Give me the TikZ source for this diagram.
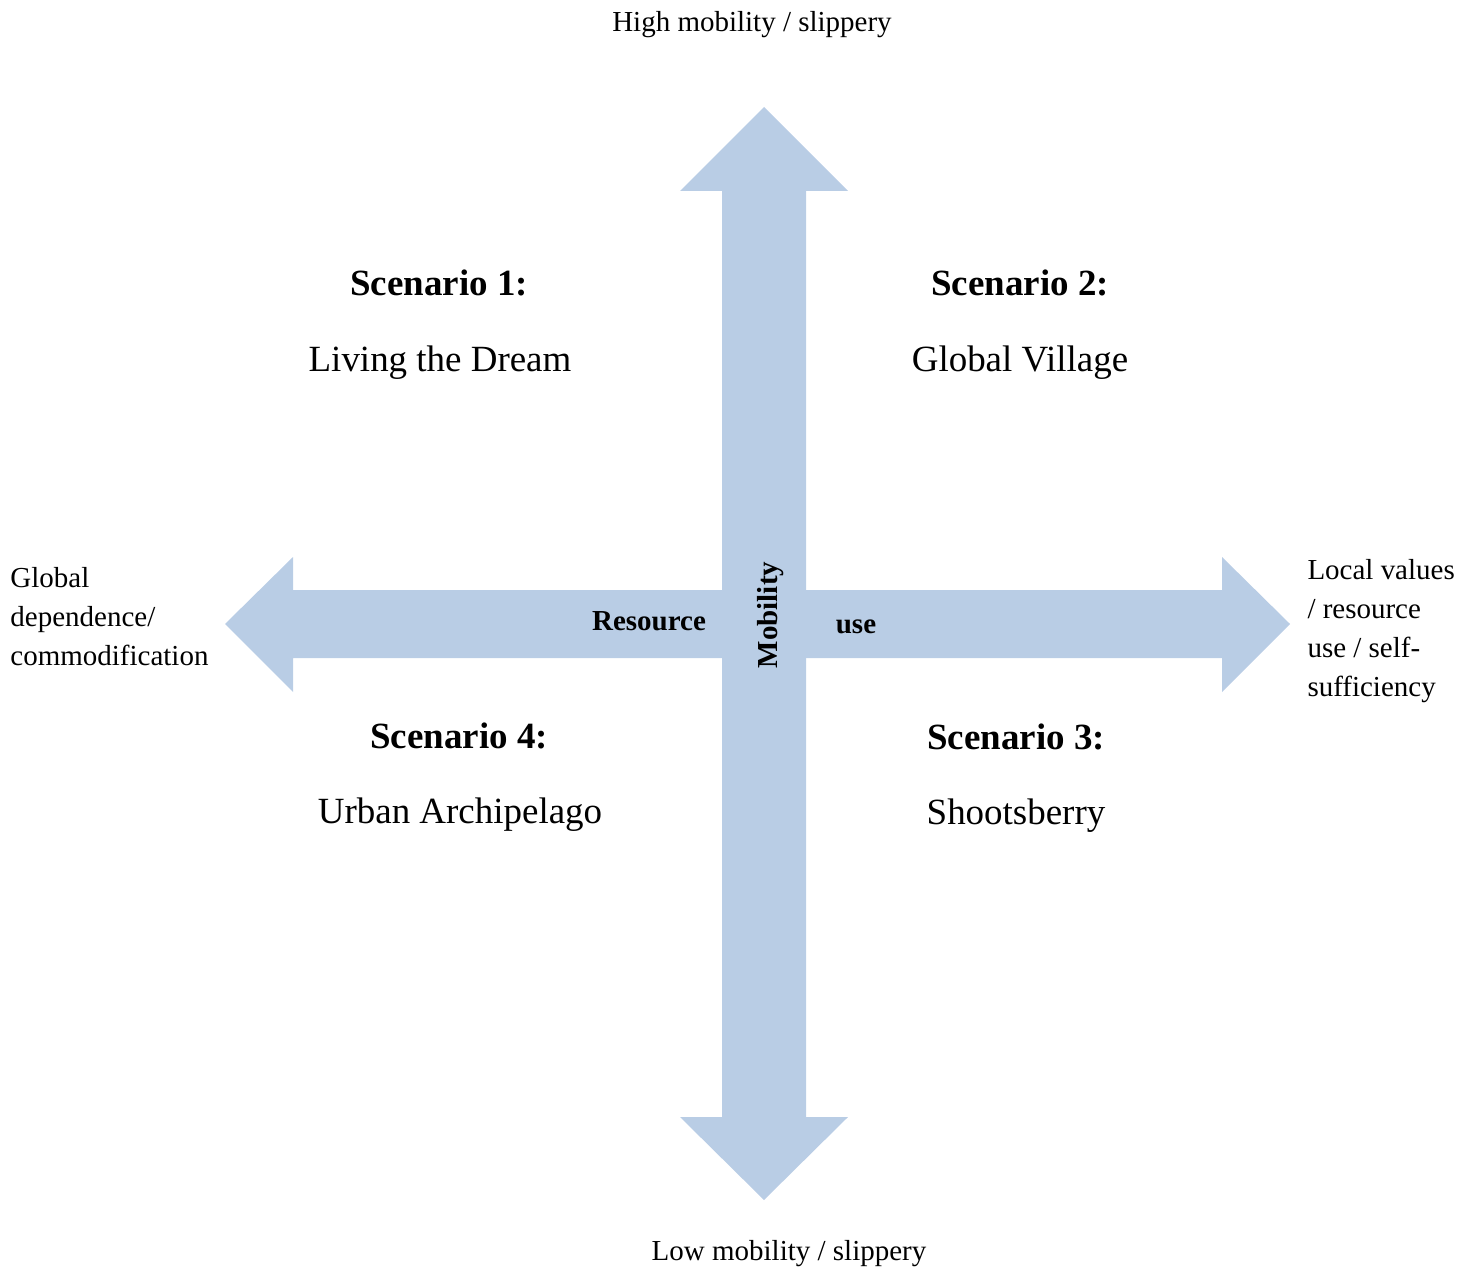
\documentclass[tikz,border=0pt]{standalone}
\usepackage{fontspec}
\setmainfont{Liberation Serif}
\definecolor{axisblue}{HTML}{B9CDE5}
\begin{document}
\begin{tikzpicture}[x=0.414pt,y=-0.414pt,
  axisfill/.style={fill=axisblue,draw=none},
  polelabel/.style={font=\fontsize{12}{16.1}\selectfont,inner sep=0pt},
  scentitle/.style={font=\fontsize{15.3}{18}\selectfont\bfseries,inner sep=0pt,anchor=base},
  scenname/.style={font=\fontsize{15.3}{18}\selectfont,inner sep=0pt,anchor=base},
  axlabel/.style={font=\fontsize{12}{14}\selectfont\bfseries,inner sep=0pt}]
\useasboundingbox (0,0) rectangle (1476,1268);
% horizontal double arrow: resource use
\fill[axisfill] (225,624) -- (293,557) -- (293,590) -- (1222,590) -- (1222,557)
  -- (1290,624) -- (1222,692) -- (1222,658) -- (293,658) -- (293,692) -- cycle;
% vertical double arrow: mobility
\fill[axisfill] (764,107) -- (848,191) -- (806,191) -- (806,1117) -- (848,1117)
  -- (764,1200) -- (680,1117) -- (722,1117) -- (722,191) -- (680,191) -- cycle;
% axis labels
\node[axlabel,anchor=base] (res) at (649,630) {Resource};
\node[axlabel,anchor=base] (use) at (856,633) {use};
\node[axlabel,anchor=base,rotate=90] (mob) at (777,615) {Mobility};
% pole labels
\node[polelabel,anchor=base] (high) at (752,32) {High mobility / slippery};
\node[polelabel,anchor=base] (low) at (789,1260) {Low mobility / slippery};
\node[polelabel,anchor=north west,align=left] (global) at (10,567)
  {Global\\dependence/\\commodification};
\node[polelabel,anchor=north west,align=left] (local) at (1307,559)
  {Local values\\/ resource\\use / self-\\sufficiency};
% scenarios
\node[scentitle] (s1) at (439,296) {Scenario 1:};
\node[scenname] (n1) at (440,371) {Living the Dream};
\node[scentitle] (s2) at (1020,296) {Scenario 2:};
\node[scenname] (n2) at (1020,372) {Global Village};
\node[scentitle] (s4) at (459,748) {Scenario 4:};
\node[scenname] (n4) at (460,823) {Urban Archipelago};
\node[scentitle] (s3) at (1016,749) {Scenario 3:};
\node[scenname] (n3) at (1016,824) {Shootsberry};
\end{tikzpicture}
\end{document}
